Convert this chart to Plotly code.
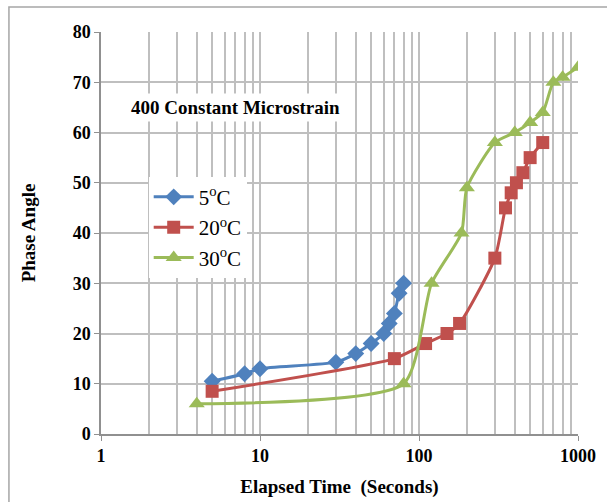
import plotly.graph_objects as go

# Data
t5 = [5, 8, 10, 30, 40, 50, 60, 65, 70, 75, 80]
pa5 = [10.5, 12, 13, 14.3, 16, 18, 20, 22, 24, 28, 30]

t20 = [5, 70, 110, 150, 180, 300, 350, 380, 410, 450, 500, 600]
pa20 = [8.5, 15, 18, 20, 22, 35, 45, 48, 50, 52, 55, 58]

t30 = [4, 80, 120, 185, 200, 300, 400, 500, 600, 700, 800, 1000]
pa30 = [6, 10, 30, 40, 49, 58, 60, 62, 64, 70, 71, 73]

names = ["5<sup>o</sup>C", "20<sup>o</sup>C", "30<sup>o</sup>C"]
x_ticks = [1, 10, 100, 1000]
y_ticks = [0, 10, 20, 30, 40, 50, 60, 70, 80]

FONT = "Liberation Serif"
fig = go.Figure()
fig.add_trace(go.Scatter(x=t5, y=pa5, name=names[0], mode="lines+markers",
                         line=dict(color="#4F81BD", width=3, shape="spline", smoothing=0.6),
                         marker=dict(symbol="diamond", size=13, color="#4F81BD")))
fig.add_trace(go.Scatter(x=t20, y=pa20, name=names[1], mode="lines+markers",
                         line=dict(color="#C0504D", width=3, shape="spline", smoothing=0.6),
                         marker=dict(symbol="square", size=13, color="#C0504D")))
fig.add_trace(go.Scatter(x=t30, y=pa30, name=names[2], mode="lines+markers",
                         line=dict(color="#9BBB59", width=3, shape="spline", smoothing=0.6),
                         marker=dict(symbol="triangle-up", size=14, color="#9BBB59")))

grid = "#BFBFBF"
fig.update_layout(
    width=607, height=502,
    margin=dict(l=101, r=29, t=32, b=68),
    paper_bgcolor="white", plot_bgcolor="white",
    font=dict(family=FONT, color="black"),
    showlegend=True,
    legend=dict(x=0.1, y=0.64, xanchor="left", yanchor="top",
                font=dict(family=FONT, size=21, color="black"),
                bgcolor="rgba(255,255,255,1)", tracegroupgap=0, itemwidth=40),
    xaxis=dict(type="log", range=[0, 3], tickvals=x_ticks, ticktext=[str(v) for v in x_ticks],
               automargin=False,
               showgrid=True, gridcolor=grid, gridwidth=1.5,
               minor=dict(dtick="D1", showgrid=True, gridcolor=grid, gridwidth=1.5),
               showline=True, linecolor="#909090", linewidth=1.5,
               ticks="outside", ticklen=5, tickcolor="#909090",
               tickfont=dict(family=FONT, size=18, color="black", weight="bold"),
               title=dict(text="Elapsed Time  (Seconds)", standoff=14,
                          font=dict(family=FONT, size=19, color="black", weight="bold")),
               zeroline=False),
    yaxis=dict(range=[0, 80], tickvals=y_ticks, automargin=False,
               showgrid=True, gridcolor=grid, gridwidth=1.5,
               showline=True, linecolor="#909090", linewidth=1.5,
               ticks="outside", ticklen=5, tickcolor="#909090",
               tickfont=dict(family=FONT, size=18, color="black", weight="bold"),
               title=dict(text="Phase Angle", standoff=32,
                          font=dict(family=FONT, size=19, color="black", weight="bold")),
               zeroline=False),
)

fig.add_annotation(x=0.283, y=0.812, xref="paper", yref="paper",
                   xanchor="center", yanchor="middle",
                   text="400 Constant Microstrain", showarrow=False,
                   font=dict(family=FONT, size=19, color="black", weight="bold"),
                   bgcolor="white", borderpad=3)

fig.add_shape(type="rect", xref="paper", yref="paper",
              x0=-0.193, x1=1.07, y0=-0.18, y1=1.062,
              line=dict(color="#A6A6A6", width=1.5), layer="below")

fig.write_html("out.html", config={"displayModeBar": False},
               post_script="document.body.style.margin='0';document.body.style.overflow='hidden';")
